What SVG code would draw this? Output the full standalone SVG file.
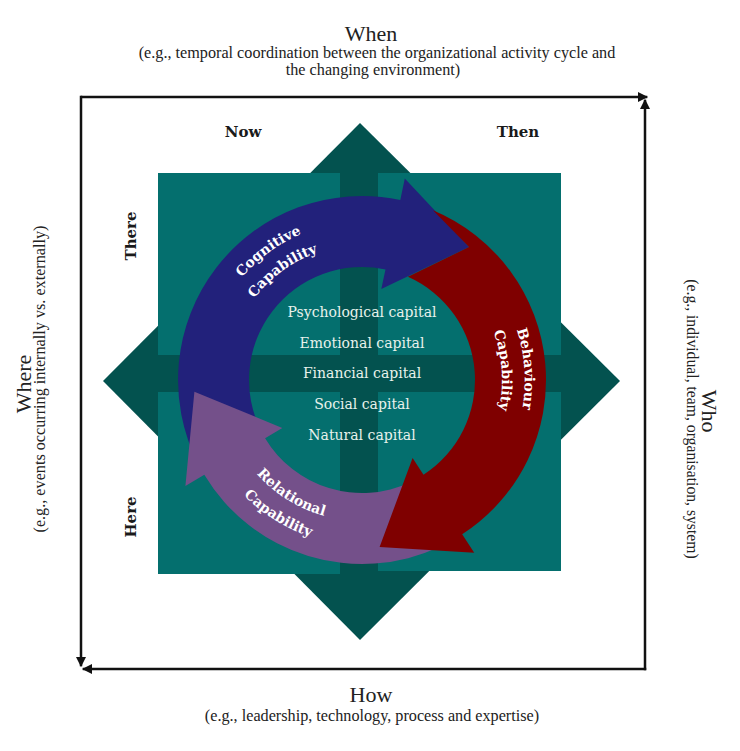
<svg xmlns="http://www.w3.org/2000/svg" xmlns:xlink="http://www.w3.org/1999/xlink" width="740" height="751" viewBox="0 0 740 751">
<style>
.title{font-family:"Liberation Serif",serif;font-size:22px;fill:#222;text-anchor:middle}
.sub{font-family:"Liberation Serif",serif;font-size:16.2px;fill:#222;text-anchor:middle}
.axis{font-family:"DejaVu Serif",serif;font-weight:bold;font-size:15px;fill:#1a1a1a;text-anchor:middle}
.cap{font-family:"DejaVu Serif",serif;font-size:14px;fill:#e8f2ec;text-anchor:middle}
.lbl{font-family:"DejaVu Serif",serif;font-weight:bold;font-size:14px;fill:#ffffff}
.frame{fill:none;stroke:#111;stroke-width:2.5;stroke-linecap:square}
.quad{fill:#046f6e}
</style>
<defs>
<marker id="ah" viewBox="0 0 10 10" refX="8" refY="5" markerWidth="10" markerHeight="10" markerUnits="userSpaceOnUse" orient="auto">
<path d="M0,0 L10,5 L0,10 z" fill="#111"/>
</marker>
<path id="pCog1" d="M204.4,369 A158,158 0 0 1 400.2,226.7"/>
<path id="pCog2" d="M227.3,370.6 A135,135 0 0 1 394.7,249"/>
<path id="pBeh1" d="M457.8,248.5 A163,163 0 0 1 475.2,497.3"/>
<path id="pBeh2" d="M444.3,266.7 A140,140 0 0 1 459.3,480.7"/>
<path id="pRel1" d="M222.3,399.6 A141,141 0 0 0 405.6,514.1"/>
<path id="pRel2" d="M198.6,402.9 A165,165 0 0 0 413,536.9"/>
</defs>
<rect width="740" height="751" fill="#ffffff"/>

<g id="when-label">
<text class="title" x="371" y="41">When</text>
<text class="sub" x="377" y="58">(e.g., temporal coordination between the organizational activity cycle and</text>
<text class="sub" x="373" y="75">the changing environment)</text>
</g>
<g id="how-label">
<text class="title" x="371" y="702">How</text>
<text class="sub" x="372" y="721">(e.g., leadership, technology, process and expertise)</text>
</g>
<g id="where-label">
<text class="title" transform="translate(31,384) rotate(-90)">Where</text>
<text class="sub" transform="translate(45,379) rotate(-90)">(e.g.,  events occurring internally vs. externally)</text>
</g>
<g id="who-label">
<text class="title" transform="translate(702,411) rotate(90)">Who</text>
<text class="sub" style="font-size:15.7px" transform="translate(687,419) rotate(90)">(e.g., individual, team, organisation, system)</text>
</g>

<g id="frame">
<path class="frame" d="M82,97 L646,97" marker-end="url(#ah)"/>
<path class="frame" d="M645,669 L645,101" marker-end="url(#ah)"/>
<path class="frame" d="M645,669 L84,669" marker-end="url(#ah)"/>
<path class="frame" d="M81,97 L81,665" marker-end="url(#ah)"/>
</g>

<g id="quadrant-grid">
<polygon points="360,123 620,381 360,640 103,381" fill="#03524f"/>
<rect class="quad" x="158" y="173" width="182" height="182"/>
<rect class="quad" x="378" y="173" width="183" height="182"/>
<rect class="quad" x="158" y="392" width="182" height="182"/>
<rect class="quad" x="378" y="392" width="183" height="179"/>
</g>

<g id="axis-labels">
<text class="axis" x="243" y="137">Now</text>
<text class="axis" x="518" y="137">Then</text>
<text class="axis" transform="translate(136,236) rotate(-90)">There</text>
<text class="axis" transform="translate(136,517) rotate(-90)">Here</text>
</g>

<g id="cognitive-capability">
<path d="M198.1,463.5 A184,184 0 0 1 400.3,200 L404.8,178.5 L469,247 L381.3,289 L385.5,269.5 A113,113 0 0 0 261.3,431.3 Z" fill="#22217b"/>
<text class="lbl"><textPath xlink:href="#pCog1" href="#pCog1" startOffset="50%" text-anchor="middle">Cognitive</textPath></text>
<text class="lbl"><textPath xlink:href="#pCog2" href="#pCog2" startOffset="50%" text-anchor="middle">Capability</textPath></text>
</g>

<g id="relational-capability">
<path d="M439.8,546.8 A184,184 0 0 1 204.3,474.8 L185.4,486.1 L194.4,391.7 L282.3,427.9 L265.1,438.2 A113,113 0 0 0 409.8,482.4 Z" fill="#74508a"/>
<text class="lbl"><textPath xlink:href="#pRel1" href="#pRel1" startOffset="50%" text-anchor="middle">Relational</textPath></text>
<text class="lbl"><textPath xlink:href="#pRel2" href="#pRel2" startOffset="50%" text-anchor="middle">Capability</textPath></text>
</g>

<g id="behaviour-capability">
<path d="M432.95,210.2 A184,184 0 0 1 462.2,534.3 L474.2,552.8 L379.6,547 L412.6,458 L423.5,474.8 A113,113 0 0 0 407.97,276.78 L469,247 Z" fill="#7f0000"/>
<text class="lbl"><textPath xlink:href="#pBeh1" href="#pBeh1" startOffset="50%" text-anchor="middle">Behaviour</textPath></text>
<text class="lbl"><textPath xlink:href="#pBeh2" href="#pBeh2" startOffset="50%" text-anchor="middle">Capability</textPath></text>
</g>

<g id="capitals">
<text class="cap" x="362" y="317">Psychological capital</text>
<text class="cap" x="362" y="348">Emotional capital</text>
<text class="cap" x="362" y="378">Financial capital</text>
<text class="cap" x="362" y="409">Social capital</text>
<text class="cap" x="362" y="440">Natural capital</text>
</g>
</svg>
